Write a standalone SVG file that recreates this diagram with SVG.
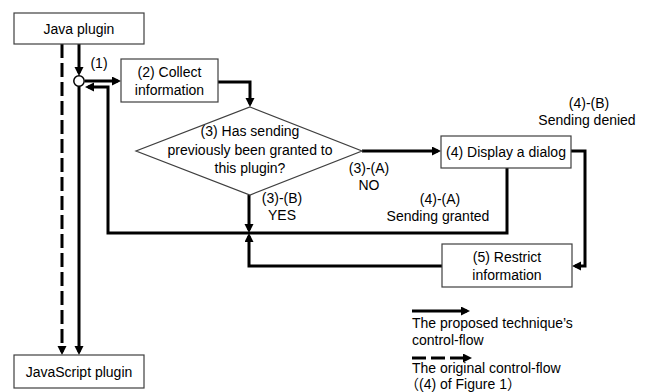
<svg xmlns="http://www.w3.org/2000/svg" width="648" height="392" viewBox="0 0 648 392">
  <style>
    .box { fill: #ffffff; stroke: #3f3f3f; stroke-width: 1.2; }
    .lbl { font-family: "Liberation Sans", Arial, "Noto Sans CJK JP", sans-serif; font-size: 14px; fill: #000000; }
    .mid { text-anchor: middle; }
    .flow { fill: none; stroke: #000000; stroke-width: 3; }
    .dash { stroke-dasharray: 14 5; }
    .arr { marker-end: url(#head); }
  </style>
  <defs>
    <marker id="head" markerUnits="userSpaceOnUse" markerWidth="10" markerHeight="10" refX="6" refY="4.5" orient="auto">
      <path d="M0,0 L9,4.5 L0,9 z" fill="#000000"/>
    </marker>
  </defs>

  <rect width="648" height="392" fill="#ffffff"/>

  <!-- connectors -->
  <g id="connectors">
    <path class="flow arr" d="M79,44 V73"/>
    <path class="flow arr" d="M85,81 H118"/>
    <path class="flow arr" d="M218,82 H250 V104"/>
    <path class="flow arr" d="M362,151 H438"/>
    <path class="flow arr" d="M571,151 H585 V266 H575"/>
    <path class="flow arr" d="M507,168 V233 H108 V87 H88"/>
    <path class="flow arr" d="M249,195 V230"/>
    <path class="flow arr" d="M442,266 H249 V236"/>
    <path class="flow arr" d="M79,86 V352"/>
    <path class="flow dash arr" d="M62,44 V352"/>
    <circle cx="79" cy="81" r="5.2" fill="#ffffff" stroke="#000000" stroke-width="1.5"/>
  </g>

  <g id="java-plugin">
    <rect class="box" x="14" y="13" width="130" height="31"/>
    <text class="lbl mid" x="79" y="34">Java plugin</text>
  </g>

  <g id="step1-label">
    <text class="lbl mid" x="99" y="68">(1)</text>
  </g>

  <g id="collect">
    <rect class="box" x="121" y="59" width="97" height="43"/>
    <text class="lbl mid" x="169.5" y="77">(2) Collect</text>
    <text class="lbl mid" x="169.5" y="95">information</text>
  </g>

  <g id="decision">
    <polygon class="box" points="250,107 362,151 250,195 136,151"/>
    <text class="lbl mid" x="250" y="136">(3) Has sending</text>
    <text class="lbl mid" x="250" y="155">previously been granted to</text>
    <text class="lbl mid" x="250" y="173">this plugin?</text>
  </g>

  <g id="branch-no">
    <text class="lbl mid" x="369" y="173">(3)-(A)</text>
    <text class="lbl mid" x="369" y="190">NO</text>
  </g>

  <g id="branch-yes">
    <text class="lbl mid" x="282" y="203">(3)-(B)</text>
    <text class="lbl mid" x="282" y="220">YES</text>
  </g>

  <g id="dialog">
    <rect class="box" x="441" y="136" width="130" height="32"/>
    <text class="lbl mid" x="506" y="157">(4) Display a dialog</text>
  </g>

  <g id="granted">
    <text class="lbl mid" x="440" y="204">(4)-(A)</text>
    <text class="lbl mid" x="438" y="221">Sending granted</text>
  </g>

  <g id="denied">
    <text class="lbl mid" x="589" y="108">(4)-(B)</text>
    <text class="lbl mid" x="587" y="125">Sending denied</text>
  </g>

  <g id="restrict">
    <rect class="box" x="442" y="244" width="130" height="43"/>
    <text class="lbl mid" x="507" y="262">(5) Restrict</text>
    <text class="lbl mid" x="507" y="280">information</text>
  </g>

  <g id="javascript-plugin">
    <rect class="box" x="14" y="355" width="130" height="33"/>
    <text class="lbl mid" x="79" y="377">JavaScript plugin</text>
  </g>

  <g id="legend">
    <path class="flow arr" d="M412,311 H467"/>
    <text class="lbl" x="412" y="328">The proposed technique’s</text>
    <text class="lbl" x="412" y="345">control-flow</text>
    <path class="flow dash arr" d="M412,358 H469"/>
    <text class="lbl" x="412" y="373">The original control-flow</text>
    <text class="lbl" x="405" y="389">（(4) of Figure 1）</text>
  </g>
</svg>
